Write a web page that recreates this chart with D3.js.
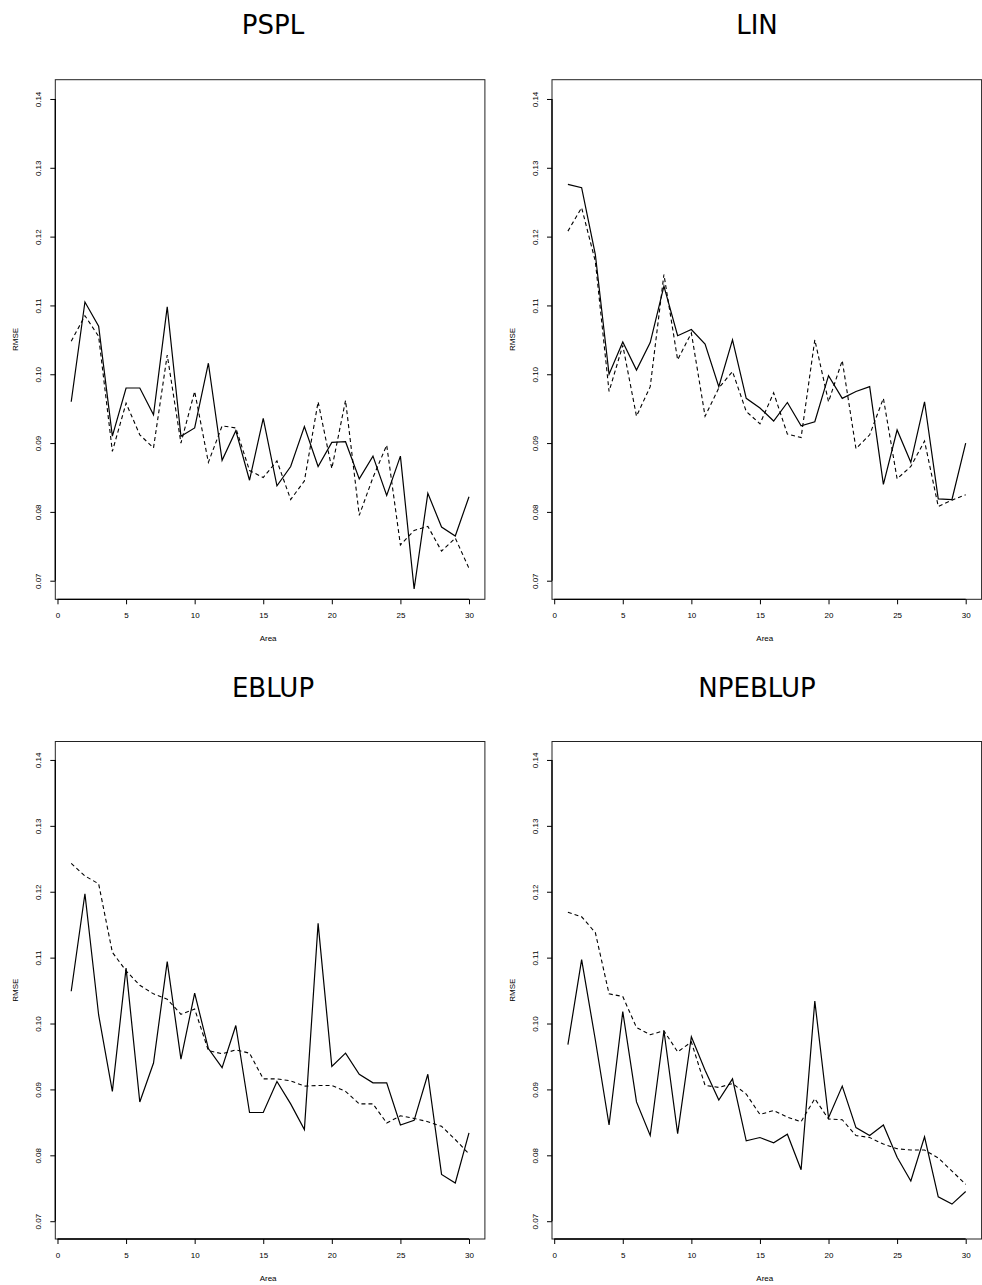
<!DOCTYPE html>
<html>
<head>
<meta charset="utf-8">
<script src="https://cdn.jsdelivr.net/npm/d3@7"></script>
<style>
  html, body { margin: 0; padding: 0; background: #fff; }
  svg { display: block; }
</style>
</head>
<body>
<svg id="chart" width="982" height="1285"></svg>
<script>
// ---- data ----
const areas = d3.range(1, 31);
const panelTitles = ["PSPL", "LIN", "EBLUP", "NPEBLUP"];
const xTicks = [0, 5, 10, 15, 20, 25, 30];
const yTicks = [0.07, 0.08, 0.09, 0.10, 0.11, 0.12, 0.13, 0.14];
const yTickLabels = ["0.07", "0.08", "0.09", "0.10", "0.11", "0.12", "0.13", "0.14"];

const psplSolid = [0.0960, 0.1105, 0.1070, 0.0910, 0.0980, 0.0980, 0.0941, 0.1098, 0.0910, 0.0922,
                   0.1016, 0.0875, 0.0918, 0.0846, 0.0936, 0.0838, 0.0866, 0.0924, 0.0866, 0.0901,
                   0.0902, 0.0848, 0.0881, 0.0824, 0.0881, 0.0688, 0.0827, 0.0778, 0.0765, 0.0822];
const psplDashed = [0.1048, 0.1085, 0.1055, 0.0888, 0.0958, 0.0912, 0.0893, 0.1028, 0.0900, 0.0975,
                    0.0872, 0.0925, 0.0922, 0.0860, 0.0850, 0.0874, 0.0818, 0.0845, 0.0960, 0.0863,
                    0.0962, 0.0795, 0.0850, 0.0897, 0.0752, 0.0773, 0.0779, 0.0743, 0.0762, 0.0718];

const linSolid = [0.1276, 0.1271, 0.1174, 0.1000, 0.1047, 0.1006, 0.1046, 0.1128, 0.1056, 0.1065,
                  0.1044, 0.0982, 0.1050, 0.0965, 0.0951, 0.0932, 0.0959, 0.0925, 0.0931, 0.0998,
                  0.0965, 0.0975, 0.0982, 0.0840, 0.0919, 0.0872, 0.0960, 0.0819, 0.0818, 0.0900];
const linDashed = [0.1208, 0.1242, 0.1164, 0.0975, 0.1042, 0.0939, 0.0982, 0.1145, 0.1021, 0.1060,
                   0.0939, 0.0980, 0.1004, 0.0946, 0.0928, 0.0973, 0.0913, 0.0908, 0.1050, 0.0960,
                   0.1020, 0.0892, 0.0912, 0.0965, 0.0848, 0.0866, 0.0903, 0.0808, 0.0817, 0.0825];

const eblupSolid = [0.1049, 0.1197, 0.1013, 0.0897, 0.1084, 0.0881, 0.0940, 0.1094, 0.0946, 0.1046,
                    0.0962, 0.0933, 0.0997, 0.0865, 0.0865, 0.0912, 0.0878, 0.0839, 0.1152, 0.0935,
                    0.0955, 0.0923, 0.0910, 0.0910, 0.0846, 0.0853, 0.0923, 0.0771, 0.0758, 0.0834];
const eblupDashed = [0.1243, 0.1224, 0.1212, 0.1108, 0.1080, 0.1058, 0.1045, 0.1037, 0.1014, 0.1022,
                     0.0959, 0.0954, 0.0960, 0.0955, 0.0916, 0.0916, 0.0913, 0.0905, 0.0906, 0.0906,
                     0.0897, 0.0878, 0.0878, 0.0849, 0.0860, 0.0856, 0.0851, 0.0844, 0.0824, 0.0802];

const npeblupSolid = [0.0968, 0.1097, 0.0975, 0.0846, 0.1018, 0.0881, 0.0830, 0.0989, 0.0833, 0.0980,
                      0.0929, 0.0884, 0.0916, 0.0822, 0.0827, 0.0819, 0.0832, 0.0778, 0.1034, 0.0857,
                      0.0905, 0.0842, 0.0830, 0.0846, 0.0797, 0.0761, 0.0828, 0.0737, 0.0726, 0.0745];
const npeblupDashed = [0.1169, 0.1162, 0.1138, 0.1045, 0.1041, 0.0994, 0.0983, 0.0989, 0.0957, 0.0972,
                       0.0906, 0.0903, 0.0909, 0.0893, 0.0862, 0.0868, 0.0858, 0.0851, 0.0886, 0.0855,
                       0.0854, 0.0830, 0.0827, 0.0817, 0.0810, 0.0808, 0.0808, 0.0796, 0.0776, 0.0756];

const solidSeries = [psplSolid, linSolid, eblupSolid, npeblupSolid];
const dashedSeries = [psplDashed, linDashed, eblupDashed, npeblupDashed];

// ---- layout ----
const panelLeft = [55.3, 552];
const panelTop = [79.7, 741.5];
const panelHeight = [519.6, 497.5];
const panelWidth = 429.6;
const titleX = [273, 757];
const titleY = [34, 697];

const svg = d3.select("#chart");
const tickFont = "'Liberation Sans', Arial, sans-serif";

panelTitles.forEach((title, i) => {
  const col = i % 2, row = Math.floor(i / 2);
  const L = panelLeft[col], T = panelTop[row], H = panelHeight[row], W = panelWidth;

  const x = d3.scaleLinear().domain([-0.16, 31.16]).range([L, L + W]);
  const y = d3.scaleLinear().domain([0.0673, 0.1428]).range([T + H, T]);

  // title
  svg.append("text")
    .attr("x", titleX[col]).attr("y", titleY[row])
    .attr("text-anchor", "middle")
    .attr("font-family", "'DejaVu Sans', sans-serif")
    .attr("font-size", 26)
    .attr("fill", "#000")
    .text(title);

  // box
  svg.append("rect")
    .attr("x", L).attr("y", T).attr("width", W).attr("height", H)
    .attr("fill", "none").attr("stroke", "#222").attr("stroke-width", 1);

  // x axis
  const xa = svg.append("g")
    .attr("transform", `translate(0,${T + H})`)
    .call(d3.axisBottom(x).tickValues(xTicks).tickSize(5).tickPadding(8).tickFormat(d3.format("d")));
  xa.select(".domain").attr("d", `M${x(0)},0H${x(30)}`).attr("stroke", "#000").attr("stroke-width", 1.3);
  xa.selectAll(".tick line").attr("stroke", "#000");
  xa.selectAll(".tick text").attr("font-family", tickFont).attr("font-size", 8).attr("fill", "#000");

  // y axis
  const ya = svg.append("g")
    .attr("transform", `translate(${L},0)`)
    .call(d3.axisLeft(y).tickValues(yTicks).tickSize(5).tickFormat((d, k) => yTickLabels[k]));
  ya.select(".domain").attr("d", `M0,${y(0.07)}V${y(0.14)}`).attr("stroke", "#000").attr("stroke-width", 1.3);
  ya.selectAll(".tick line").attr("stroke", "#000");
  ya.selectAll(".tick text")
    .attr("font-family", tickFont).attr("font-size", 8).attr("fill", "#000")
    .attr("x", null).attr("dy", null)
    .attr("text-anchor", "middle")
    .attr("transform", "translate(-14,0) rotate(-90)");

  // axis titles
  svg.append("text")
    .attr("x", L + W / 2 - 2).attr("y", T + H + 42)
    .attr("text-anchor", "middle")
    .attr("font-family", tickFont).attr("font-size", 8).attr("fill", "#000")
    .text("Area");
  svg.append("text")
    .attr("transform", `translate(${L - 37},${T + H / 2}) rotate(-90)`)
    .attr("text-anchor", "middle")
    .attr("font-family", tickFont).attr("font-size", 8).attr("fill", "#000")
    .text("RMSE");

  const line = d3.line().x((d, k) => x(areas[k])).y(d => y(d));

  svg.append("path")
    .datum(dashedSeries[i])
    .attr("d", line)
    .attr("fill", "none").attr("stroke", "#000").attr("stroke-width", 1.1)
    .attr("stroke-dasharray", "4,3");

  svg.append("path")
    .datum(solidSeries[i])
    .attr("d", line)
    .attr("fill", "none").attr("stroke", "#000").attr("stroke-width", 1.2);
});
</script>
</body>
</html>
